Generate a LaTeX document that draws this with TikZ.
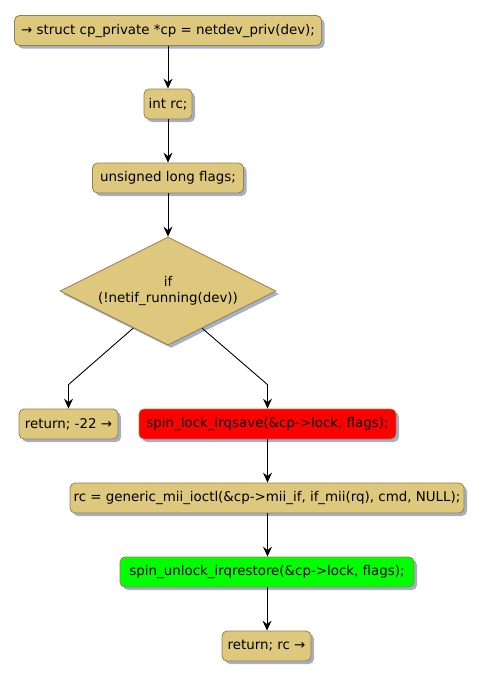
\documentclass[tikz,border=0pt]{standalone}
\usepackage{fontspec}
\setmainfont{DejaVu Sans}
\usetikzlibrary{arrows.meta,shapes.geometric,shadows,calc}
\definecolor{actfill}{RGB}{221,200,125}
\definecolor{actdraw}{RGB}{150,130,70}
\definecolor{shadowc}{RGB}{165,175,200}
\definecolor{redfill}{RGB}{255,0,0}
\definecolor{greenfill}{RGB}{0,255,0}
\begin{document}
\begin{tikzpicture}[x=1pt,y=-1pt,
  every node/.style={font=\fontsize{13.4}{16.5}\selectfont},
  sh/.style={drop shadow={shadow xshift=3pt,shadow yshift=-3pt,fill=shadowc,opacity=1}},
  act/.style={draw=actdraw,fill=actfill,rounded corners=5pt,line width=0.8pt,
    minimum height=30pt,inner xsep=1pt,inner ysep=0pt,sh},
  dec/.style={shape=diamond,aspect=2,draw=actdraw,fill=actfill,line width=0.8pt,
    minimum width=216pt,minimum height=108pt,inner sep=0pt,align=center,sh},
  arr/.style={draw=black,line width=0.9pt,-{Stealth[length=10pt,width=9pt,inset=3.5pt]}}]
\useasboundingbox (0,0) rectangle (483,680);
\node[act,minimum width=307pt] (a) at (168,30.5) {→ struct cp\_private *cp = netdev\_priv(dev);};
\node[act,minimum width=48pt] (b) at (168,104) {int rc;};
\node[act,minimum width=151pt] (c) at (168,178) {unsigned long flags;};
\node[dec] (d) at (168,291) {if\\(!netif\_running(dev))};
\node[act,minimum width=99pt] (e) at (68.5,424) {return; -22 →};
\node[act,fill=redfill,minimum width=257pt] (f) at (267.5,424) {spin\_lock\_irqsave(\&cp->lock, flags);};
\node[act,minimum width=394pt] (g) at (267,498) {rc = generic\_mii\_ioctl(\&cp->mii\_if, if\_mii(rq), cmd, NULL);};
\node[act,fill=greenfill,minimum width=294pt] (h) at (267,572) {spin\_unlock\_irqrestore(\&cp->lock, flags);};
\node[act,minimum width=89pt] (i) at (266.5,646) {return; rc →};
\draw[arr] (a.south) -- (a.south |- b.north);
\draw[arr] (b.south) -- (b.south |- c.north);
\draw[arr] (c.south) -- (c.south |- d.north);
\draw[arr] ($(d.west)!0.68!(d.south)$) -- ([yshift=24pt]e.north) -- (e.north);
\draw[arr] ($(d.south)!0.315!(d.east)$) -- ([yshift=24pt]f.north) -- (f.north);
\draw[arr] (f.south) -- (f.south |- g.north);
\draw[arr] (g.south -| f.south) -- (f.south |- h.north);
\draw[arr] (h.south) -- (h.south |- i.north);
\end{tikzpicture}
\end{document}
